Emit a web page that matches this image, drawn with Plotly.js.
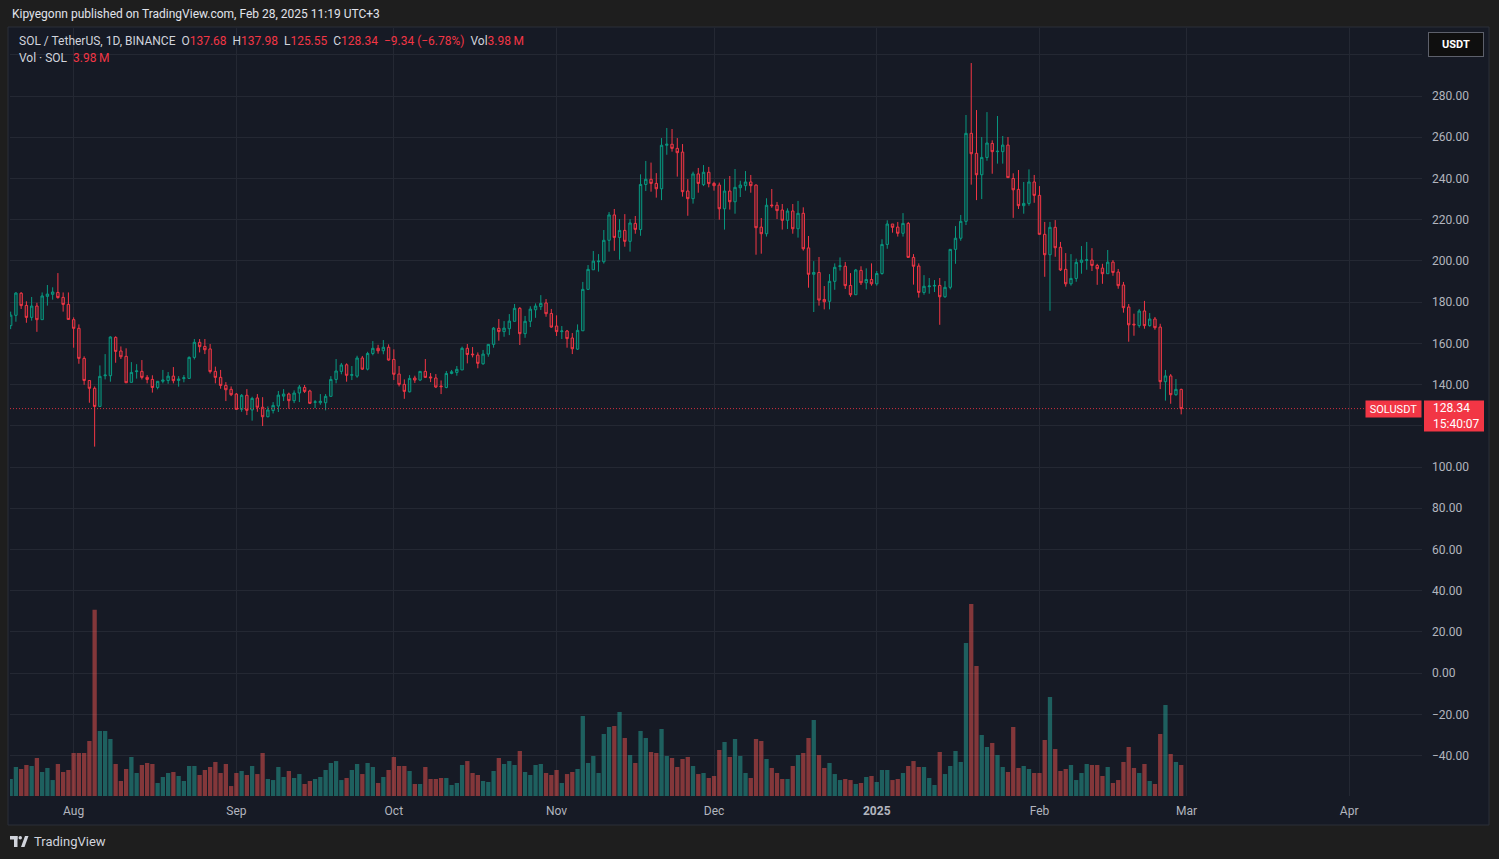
<!DOCTYPE html>
<html>
<head>
<meta charset="utf-8">
<script src="https://cdn.plot.ly/plotly-3.0.1.min.js"></script>
<style>
html,body{margin:0;padding:0;background:#1e1e1e;overflow:hidden;}
#chart{width:1499px;height:859px;}
</style>
</head>
<body>
<div id="chart"></div>
<script>
// ---------------- DATA ----------------
const startDate = '2024-07-20'; // first daily candle
const opens = [
168.6,173.6,184.3,178.4,172.6,178.1,171.5,182.8,183.8,184.7,
182.3,178.9,171.5,167.3,152.7,142.0,138.2,129.4,144.3,144.3,
162.9,156.3,153.7,141.1,146.3,146.4,143.5,142.5,138.6,141.6,
142.0,144.1,142.0,142.9,143.0,153.2,160.5,158.5,157.3,146.4,
143.5,139.6,137.7,135.4,128.0,134.8,127.7,133.5,129.0,124.4,
127.4,129.6,134.4,135.4,132.2,135.9,138.6,136.9,131.4,131.2,
131.2,134.3,142.5,146.4,149.6,144.5,144.1,152.9,147.5,155.1,
157.6,156.4,158.1,152.2,145.1,140.1,136.5,143.2,142.2,146.4,
143.7,143.2,139.3,138.6,145.4,145.9,147.1,157.6,154.8,154.3,
150.1,154.8,159.5,167.3,165.7,167.1,170.7,177.0,164.7,170.7,
176.3,177.8,179.6,174.5,168.4,165.7,166.0,162.6,157.2,166.1,
186.2,195.7,199.6,199.6,210.0,222.3,211.4,214.8,209.5,218.2,
215.2,237.1,239.6,237.6,235.0,256.1,256.6,254.6,252.8,233.9,
230.2,242.2,237.0,243.0,237.6,236.8,225.3,233.9,228.7,235.5,
236.5,238.3,236.8,216.4,213.2,227.1,227.0,224.7,219.7,224.2,
215.6,223.1,206.3,193.5,194.4,181.3,180.4,190.1,197.3,197.4,
188.1,183.6,195.4,189.4,191.0,188.9,193.9,208.0,217.9,216.4,
213.4,218.2,201.7,197.5,184.7,187.5,187.8,188.1,182.6,187.2,
205.6,211.0,219.2,261.9,252.2,241.8,250.2,257.0,253.0,253.0,
256.2,240.0,234.7,226.8,227.9,238.3,231.8,212.9,203.0,216.3,
206.6,195.9,188.9,191.5,199.3,200.3,200.4,197.8,196.5,193.8,
199.4,194.6,188.3,177.6,169.3,168.6,175.7,168.6,171.8,167.9,
141.4,144.2,135.1,137.68
];
const highs = [
175.4,184.9,184.9,180.4,182.5,179.7,184.7,188.3,187.2,194.1,
184.7,184.7,172.6,169.2,153.7,142.0,139.1,149.3,154.8,163.4,
163.4,158.5,157.6,150.9,149.9,151.9,144.6,144.5,141.6,147.1,
146.1,148.5,144.1,144.6,153.7,162.1,162.1,162.1,159.7,148.7,
147.1,141.2,139.1,135.9,135.4,137.8,134.1,135.4,133.9,129.4,
131.5,136.9,137.8,136.1,137.2,139.8,139.8,137.5,132.5,135.4,
135.4,144.1,152.4,150.5,150.3,149.0,154.0,153.9,155.9,161.1,
159.3,161.6,159.5,157.1,149.0,142.5,144.6,144.3,146.6,152.4,
145.6,145.1,142.0,146.6,147.1,149.0,158.4,159.7,158.2,155.6,
156.8,159.5,167.9,171.8,170.8,174.2,179.1,177.6,173.3,178.0,
179.4,183.4,181.5,176.7,173.6,168.4,166.5,165.0,169.2,189.8,
198.0,204.8,203.3,215.0,223.7,225.2,220.3,222.7,220.3,221.8,
242.0,248.5,247.7,242.6,259.6,264.5,264.0,259.6,256.7,239.7,
243.3,245.1,246.5,245.6,238.4,238.0,239.7,241.2,244.6,238.9,
243.6,241.7,237.1,220.8,230.4,234.9,228.6,227.6,225.5,227.6,
229.1,226.0,212.1,199.9,201.9,187.8,193.6,198.8,201.7,199.5,
194.1,196.1,197.4,196.4,198.8,195.1,210.5,219.7,217.9,218.9,
223.2,218.9,203.3,198.8,193.1,191.7,190.7,191.7,190.2,205.6,
216.9,222.3,270.8,296.0,273.2,260.1,272.2,258.5,270.3,260.6,
260.1,242.5,244.1,238.3,244.4,241.7,236.3,218.9,218.9,219.8,
209.2,203.8,203.3,201.1,207.2,209.2,206.2,198.6,198.6,205.3,
200.4,196.1,189.8,179.1,174.4,176.6,180.6,174.7,172.8,169.5,
147.1,145.1,142.7,137.98
];
const lows = [
166.9,170.5,176.7,170.0,171.0,165.6,171.5,178.3,181.2,181.7,
175.4,171.6,157.9,150.1,139.9,131.2,109.9,129.4,142.5,141.4,
150.6,152.4,140.9,141.1,142.9,142.5,140.6,136.1,137.7,140.6,
140.4,140.6,139.0,141.1,143.0,152.2,155.6,154.8,145.4,140.6,
138.0,132.0,134.4,127.7,126.8,125.2,122.5,126.8,119.9,124.1,
126.0,126.7,132.0,128.3,131.0,131.5,135.9,130.6,128.6,130.2,
127.5,134.3,140.6,145.0,141.4,142.2,143.3,147.1,146.9,154.2,
155.0,154.7,151.6,142.2,139.1,133.1,136.2,140.8,141.7,143.2,
141.2,138.3,135.4,138.2,145.0,144.3,147.1,150.3,153.2,147.9,
149.6,153.5,157.9,161.3,163.2,164.0,170.7,159.2,162.7,167.9,
172.4,176.2,172.9,167.6,163.6,162.1,157.9,154.8,156.8,166.1,
186.2,195.7,194.8,198.7,204.5,204.9,200.6,206.9,204.5,213.2,
212.2,233.9,233.6,230.7,229.5,251.5,253.0,240.9,231.2,221.9,
227.8,233.1,236.3,235.7,234.1,220.0,215.2,224.9,222.9,231.0,
234.1,233.1,203.0,203.5,211.8,225.8,220.3,215.2,215.5,213.2,
211.3,205.0,187.0,175.2,178.3,176.5,176.5,186.0,195.3,186.4,
182.6,183.6,188.3,186.2,188.0,188.0,193.3,205.9,213.7,211.8,
211.8,201.7,188.5,182.2,183.6,184.1,184.9,169.0,182.1,186.2,
198.6,209.8,217.4,237.0,229.5,230.0,248.6,242.3,247.2,247.2,
240.4,220.9,225.2,222.9,226.8,228.2,212.9,192.3,175.8,202.0,
195.1,187.5,188.0,189.9,193.8,195.7,195.1,188.4,188.9,193.8,
192.8,186.5,174.9,160.8,163.7,167.6,167.1,168.1,166.6,137.8,
132.2,130.7,134.6,125.55
];
const closes = [
173.7,184.4,178.3,172.6,178.1,171.5,183.0,183.9,184.9,182.2,
178.9,171.6,167.3,152.7,142.0,138.2,129.4,144.0,144.6,163.1,
156.1,153.5,140.9,145.9,146.6,143.5,142.5,138.6,141.6,142.2,
144.1,141.9,142.7,143.3,153.2,160.5,158.4,156.9,146.3,143.5,
139.6,137.5,135.1,128.0,134.8,127.5,133.3,129.0,124.4,127.7,
129.9,134.9,135.4,132.2,135.9,138.8,136.7,130.9,131.6,131.9,
134.3,142.5,146.6,149.5,144.5,144.8,152.9,147.5,155.1,157.6,
156.4,158.1,151.9,145.0,140.1,136.7,143.0,142.2,146.4,143.5,
143.3,138.8,139.0,145.4,146.2,147.4,157.6,154.6,154.5,150.3,
154.8,159.5,167.4,165.7,167.4,170.8,177.0,164.7,170.7,176.6,
178.1,179.4,174.4,167.9,165.7,166.0,162.3,157.4,166.3,186.2,
195.9,199.9,199.9,210.0,222.3,211.4,214.8,209.5,218.4,215.3,
237.1,239.6,237.6,235.0,256.1,256.6,254.6,252.5,233.6,230.2,
242.2,237.6,243.0,237.5,236.5,225.3,233.9,228.7,235.7,236.8,
238.3,236.5,216.1,213.2,227.0,226.8,224.4,219.7,224.2,215.6,
223.1,205.9,193.5,194.4,181.0,180.2,190.1,196.9,197.6,188.0,
183.6,195.6,189.4,191.0,188.9,193.9,208.0,217.9,216.3,213.4,
218.2,201.7,197.4,184.7,187.7,187.8,188.1,182.6,187.2,205.6,
211.0,219.2,261.9,252.0,241.8,250.2,257.2,253.0,253.2,256.2,
240.4,234.5,226.8,227.9,238.3,231.8,212.9,203.0,216.3,206.4,
195.6,188.9,191.5,199.3,200.4,200.5,197.8,196.2,193.8,199.4,
194.4,188.0,177.3,169.0,169.0,175.7,168.6,171.8,167.6,141.4,
144.2,135.1,137.68,128.34
];
// daily volume, millions of SOL
const volumes = [
2.18,3.72,3.47,3.98,3.85,4.88,3.08,3.60,2.05,4.11,
3.08,3.34,5.52,5.52,5.52,7.06,23.9,8.35,8.35,7.32,
4.11,1.93,3.47,5.01,2.95,3.98,4.24,4.11,1.67,2.44,
2.95,3.08,2.57,1.93,3.85,3.85,2.70,3.34,3.72,4.37,
2.95,4.11,1.28,2.95,3.21,2.70,3.85,2.82,5.52,2.18,
2.05,3.72,2.44,3.21,2.31,2.82,1.54,1.93,2.18,2.44,
3.34,4.24,4.49,2.05,2.31,3.34,4.11,2.82,4.24,3.72,
1.67,2.44,3.34,5.01,3.85,3.85,3.21,1.54,1.54,3.72,
2.18,2.18,2.31,2.31,1.41,1.67,3.98,4.49,2.95,2.70,
1.93,1.80,3.21,4.88,4.11,4.49,3.98,5.78,3.08,2.70,
3.98,4.11,2.95,2.70,3.34,1.67,2.82,3.08,3.47,10.27,
4.24,5.14,2.95,7.96,8.86,8.99,10.79,7.45,5.26,4.24,
8.35,7.45,5.65,5.52,8.60,5.14,4.88,3.72,4.75,5.01,
3.85,2.82,2.95,2.31,2.57,5.91,6.93,5.01,7.32,5.14,
2.95,2.31,7.32,7.06,4.75,3.60,2.95,2.18,2.18,3.85,
5.26,5.52,7.45,9.76,5.26,3.60,4.24,2.82,2.05,2.18,
2.05,1.54,1.67,2.44,2.57,1.80,3.34,3.34,2.05,2.18,
2.95,3.85,4.49,3.72,3.72,2.31,1.41,5.65,2.82,3.85,
5.78,4.37,19.65,24.65,16.69,7.83,6.29,6.81,5.26,3.72,
3.08,8.86,3.60,3.85,3.47,2.95,2.95,7.19,12.71,6.03,
3.21,3.47,3.98,2.05,2.95,4.11,3.98,3.98,2.57,3.72,
1.67,2.05,4.37,6.29,3.60,2.95,4.11,1.93,1.54,7.96,
11.68,5.39,4.37,3.98
];
const monthTickDates = ['2024-08-01','2024-09-01','2024-10-01','2024-11-01','2024-12-01','2025-01-01','2025-02-01','2025-03-01','2025-04-01'];
const monthTickLabels = ['Aug','Sep','Oct','Nov','Dec','<b>2025</b>','Feb','Mar','Apr'];
const priceTicks = [-40,-20,0,20,40,60,80,100,120,140,160,180,200,220,240,260,280,300];
// 120.00 is hidden behind the last-price label, 300.00 behind the currency button
const priceTickLabels = ['\u221240.00','\u221220.00','0.00','20.00','40.00','60.00','80.00','100.00','','140.00','160.00','180.00','200.00','220.00','240.00','260.00','280.00',''];
const countdown = '15:40:07';

// ---------------- BUILD ----------------
const sp = startDate.split('-').map(Number);
const dates = opens.map((_, i) => new Date(Date.UTC(sp[0], sp[1]-1, sp[2]+i)).toISOString().slice(0,10));

const UP = '#089981', DN = '#f23645';
const volColors = closes.map((c, i) => c >= opens[i] ? 'rgba(38,166,154,0.5)' : 'rgba(239,83,80,0.5)');

const n = closes.length;
const lastClose = closes[n-1], lastOpen = opens[n-1], lastHigh = highs[n-1], lastLow = lows[n-1];
const chg = lastClose - closes[n-2];
const pct = chg / closes[n-2] * 100;
const fmtSigned = v => (v < 0 ? '\u2212' : '+') + Math.abs(v).toFixed(2);
const red = s => '<span style="color:#f23645">' + s + '</span>';
const sp2 = '\u00a0\u00a0';

// pixel -> paper helpers (plot area: x 10..1422, y 28..796)
const PL = 10, PR = 1422, PT = 28, PB = 796;
const px = x => (x - PL) / (PR - PL);
const py = y => (PB - y) / (PB - PT);

const traces = [
  {
    type: 'bar', x: dates, y: volumes, yaxis: 'y2',
    marker: {color: volColors, line: {width: 0}},
    hoverinfo: 'skip', showlegend: false
  },
  {
    type: 'candlestick', x: dates, open: opens, high: highs, low: lows, close: closes,
    increasing: {line: {color: UP, width: 1}, fillcolor: 'rgba(8,153,129,0.18)'},
    decreasing: {line: {color: DN, width: 1}, fillcolor: 'rgba(242,54,69,0.18)'},
    whiskerwidth: 0, showlegend: false, hoverinfo: 'skip'
  }
];

const gridC = '#242833';
const layout = {
  width: 1499, height: 859,
  margin: {l: PL, r: 1499 - PR, t: PT, b: 859 - PB, pad: 0},
  paper_bgcolor: '#1e1e1e',
  plot_bgcolor: 'rgba(0,0,0,0)',
  font: {family: 'Roboto, "Noto Sans", sans-serif', size: 12, color: '#b2b5be'},
  showlegend: false,
  bargap: 0.18,
  boxgap: 0.35,
  xaxis: {
    type: 'date',
    range: ['2024-07-19 21:00', '2025-04-14 21:00'],
    tickmode: 'array', tickvals: monthTickDates, ticktext: monthTickLabels,
    showgrid: true, gridcolor: gridC, gridwidth: 1,
    zeroline: false, showline: false, ticks: '',
    ticklabelstandoff: 6,
    tickfont: {size: 12, color: '#b2b5be'},
    rangeslider: {visible: false}, fixedrange: true
  },
  yaxis: {
    side: 'right',
    range: [-59.6, 313.0],
    tickmode: 'array', tickvals: priceTicks, ticktext: priceTickLabels,
    showgrid: true, gridcolor: gridC, gridwidth: 1,
    zeroline: false, showline: false, ticks: '',
    ticklabelstandoff: 9,
    tickfont: {size: 12, color: '#b2b5be'},
    fixedrange: true
  },
  yaxis2: {
    overlaying: 'y', side: 'right', range: [0, 98.6],
    visible: false, showgrid: false, zeroline: false, fixedrange: true
  },
  shapes: [
    // chart panel
    {type: 'rect', xref: 'paper', yref: 'paper', x0: px(8), x1: px(1489), y0: py(825), y1: py(27),
     fillcolor: '#161a25', line: {color: '#2a2e39', width: 1}, layer: 'below'},
    // last price dotted line
    {type: 'line', xref: 'paper', yref: 'y', x0: 0, x1: 1, y0: lastClose, y1: lastClose,
     line: {color: 'rgba(242,54,69,0.85)', width: 1, dash: '1px,2px'}},
    // last price label background (price + countdown)
    {type: 'rect', xref: 'paper', yref: 'y', ysizemode: 'pixel', yanchor: lastClose,
     x0: px(1424), x1: px(1484), y0: -23, y1: 8,
     fillcolor: DN, line: {width: 0}},
    // TradingView logo (approximation)
    {type: 'rect', xref: 'paper', yref: 'paper', x0: px(10), x1: px(17.5), y0: py(839.5), y1: py(836),
     fillcolor: '#d1d4dc', line: {width: 0}},
    {type: 'rect', xref: 'paper', yref: 'paper', x0: px(14), x1: px(17.5), y0: py(847), y1: py(836),
     fillcolor: '#d1d4dc', line: {width: 0}},
    {type: 'circle', xref: 'paper', yref: 'paper', x0: px(18.5), x1: px(22), y0: py(839.5), y1: py(836),
     fillcolor: '#d1d4dc', line: {width: 0}},
    {type: 'path', xref: 'paper', yref: 'paper',
     path: 'M' + px(21) + ',' + py(847) + ' L' + px(25) + ',' + py(836) + ' L' + px(28.5) + ',' + py(836) + ' L' + px(24.5) + ',' + py(847) + ' Z',
     fillcolor: '#d1d4dc', line: {width: 0}}
  ],
  annotations: [
    {xref: 'paper', yref: 'paper', x: px(10), y: py(14), xanchor: 'left', yanchor: 'middle', showarrow: false,
     text: 'Kipyegonn published on TradingView.com, Feb 28, 2025 11:19 UTC+3',
     font: {size: 12, color: '#e0e3eb'}},
    {xref: 'paper', yref: 'paper', x: px(17), y: py(41), xanchor: 'left', yanchor: 'middle', showarrow: false,
     text: 'SOL / TetherUS, 1D, BINANCE' + sp2 + 'O' + red(lastOpen.toFixed(2)) + sp2 + 'H' + red(lastHigh.toFixed(2)) + sp2 +
           'L' + red(lastLow.toFixed(2)) + sp2 + 'C' + red(lastClose.toFixed(2)) + sp2 +
           red(fmtSigned(chg) + ' (' + fmtSigned(pct) + '%)') + sp2 + 'Vol' + red(volumes[n-1].toFixed(2) + '\u2009M'),
     font: {size: 12, color: '#d1d4dc'}},
    {xref: 'paper', yref: 'paper', x: px(17), y: py(58), xanchor: 'left', yanchor: 'middle', showarrow: false,
     text: 'Vol \u00b7 SOL' + sp2 + red(volumes[n-1].toFixed(2) + '\u2009M'),
     font: {size: 12, color: '#d1d4dc'}},
    // USDT button
    {xref: 'paper', yref: 'paper', x: px(1456), y: py(44), xanchor: 'center', yanchor: 'middle', showarrow: false,
     text: '<b>USDT</b>', font: {size: 11, color: '#ffffff'},
     bgcolor: '#0f0f0f', bordercolor: '#5d606b', borderwidth: 1, borderpad: 5, width: 44},
    // symbol label
    {xref: 'paper', yref: 'y', x: 1, y: lastClose, xanchor: 'right', yanchor: 'middle', showarrow: false,
     text: 'SOLUSDT', font: {size: 11, color: '#ffffff'}, bgcolor: DN, borderpad: 2, width: 51, height: 12},
    // price label text
    {xref: 'paper', yref: 'y', x: px(1431), y: lastClose, xanchor: 'left', yanchor: 'middle', yshift: 1, showarrow: false,
     text: lastClose.toFixed(2), font: {size: 12, color: '#ffffff'}},
    // countdown text
    {xref: 'paper', yref: 'y', x: px(1431), y: lastClose, xanchor: 'left', yanchor: 'middle', yshift: -15, showarrow: false,
     text: countdown, font: {size: 12, color: '#ffffff'}},
    // TradingView wordmark
    {xref: 'paper', yref: 'paper', x: px(32), y: py(841), xanchor: 'left', yanchor: 'middle', showarrow: false,
     text: 'TradingView', font: {size: 13, color: '#d1d4dc'}}
  ]
};

Plotly.newPlot('chart', traces, layout, {staticPlot: true, displayModeBar: false});
</script>
</body>
</html>
